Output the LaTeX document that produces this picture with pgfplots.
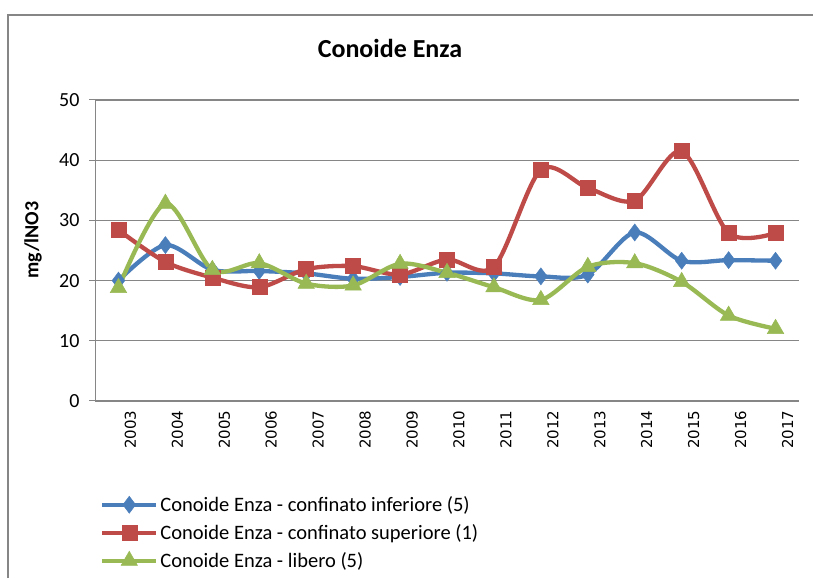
\documentclass[border=0pt]{standalone}
\usepackage{pgfplots}
\pgfplotsset{compat=1.18}
\usepackage{fontspec}
\setmainfont{Carlito}
\newfontfamily\dejavu{DejaVu Sans}

\definecolor{xblue}{HTML}{4A7EBB}
\definecolor{xred}{HTML}{BE4B48}
\definecolor{xgreen}{HTML}{98B954}
\definecolor{xgrid}{HTML}{868686}

\begin{document}
\begin{tikzpicture}
\useasboundingbox (0pt,0pt) rectangle (813pt,578pt);
\draw[xgrid, line width=1.2pt] (8pt,0pt) -- (8pt,563pt) -- (813pt,563pt);
\begin{axis}[
    at={(95pt,177pt)}, anchor=south west,
    scale only axis, width=704pt, height=301pt,
    xmin=-0.5, xmax=14.5, ymin=0, ymax=50,
    axis lines*=left,
    axis line style={xgrid, line width=1pt},
    xtick={0,...,14},
    xticklabels={2003,2004,2005,2006,2007,2008,2009,2010,2011,2012,2013,2014,2015,2016,2017},
    minor xtick={-0.5,0.5,...,14.5},
    xtick style={draw=none},
    minor tick length=6pt,
    minor x tick style={xgrid, line width=1pt},
    tick align=outside,
    xticklabel style={rotate=90, anchor=east, font=\dejavu\fontsize{15}{18}\selectfont, yshift=-12pt},
    ytick={0,10,...,50},
    major tick length=6pt,
    ytick style={xgrid, line width=1pt},
    yticklabel style={font=\fontsize{20}{24}\selectfont, xshift=-6pt},
    /pgf/number format/assume math mode=true,
    ymajorgrids, grid style={xgrid, line width=1.2pt},
    ylabel={mg/lNO3},
    ylabel style={at={(axis description cs:-0.088,0.535)}, anchor=center, font=\bfseries\fontsize{20}{24}\selectfont},
    title={Conoide Enza},
    title style={at={(axis description cs:0.419,1.15)}, anchor=center, font=\bfseries\fontsize{26}{30}\selectfont},
    legend style={at={(axis description cs:0.007,-0.31)}, anchor=north west, draw=none, fill=none,
        font=\fontsize{20.5}{24}\selectfont, row sep=7.5pt, inner sep=0pt},
    legend cell align=left,
    legend image code/.code={\draw[mark repeat=2, mark phase=2, #1] plot coordinates {(0pt,0pt) (27pt,0pt) (54pt,0pt)};},
    every axis plot/.append style={line width=4.3pt, smooth, tension=0.5},
]
\addplot[xblue, mark=diamond*, mark size=8.5pt, mark options={solid, line width=0.5pt, fill=xblue}] coordinates {
(0,20.0) (1,25.9) (2,21.8) (3,21.6) (4,21.2) (5,20.3) (6,20.6) (7,21.3) (8,21.2) (9,20.7) (10,21.0) (11,28.0) (12,23.3) (13,23.4) (14,23.3)};
\addplot[xred, mark=square*, mark size=7.5pt, mark options={solid, line width=0.5pt, fill=xred}] coordinates {
(0,28.4) (1,23.1) (2,20.5) (3,18.9) (4,21.9) (5,22.4) (6,21.0) (7,23.5) (8,22.3) (9,38.4) (10,35.4) (11,33.3) (12,41.5) (13,27.9) (14,27.9)};
\addplot[xgreen, mark=triangle*, mark size=9.5pt, mark options={solid, line width=0.5pt, fill=xgreen}] coordinates {
(0,18.8) (1,32.8) (2,21.8) (3,22.9) (4,19.5) (5,19.2) (6,22.8) (7,21.3) (8,18.9) (9,16.8) (10,22.3) (11,22.9) (12,19.8) (13,14.2) (14,12.0)};
\legend{Conoide Enza - confinato inferiore (5), Conoide Enza - confinato superiore (1), Conoide Enza - libero (5)}
\end{axis}
\end{tikzpicture}
\end{document}
